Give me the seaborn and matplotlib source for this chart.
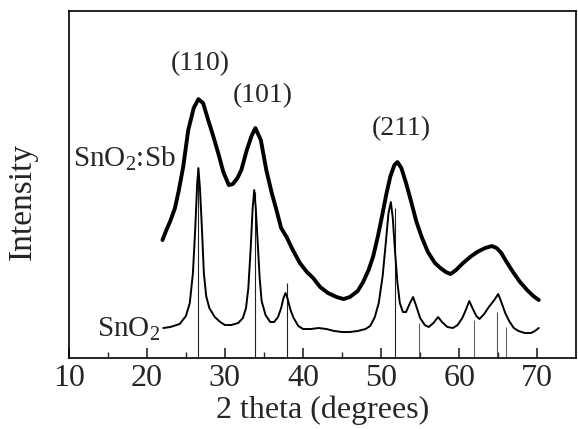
import matplotlib
matplotlib.use("Agg")
import matplotlib.pyplot as plt
import seaborn as sns
import pandas as pd

# SnO2:Sb pattern (2-theta in degrees, intensity in arbitrary units)
sb_theta = [22.0, 22.5, 23.0, 23.6, 24.1, 24.65, 25.3, 26.0, 26.6, 27.2, 27.86, 28.5,
            29.14, 29.8, 30.5, 31.0, 31.6, 32.1, 32.8, 33.4, 33.9, 34.6, 35.3, 36.0,
            36.6, 37.2, 37.9, 38.7, 39.6, 40.5, 41.3, 42.2, 43.2, 44.3, 45.2, 46.0,
            47.0, 47.7, 48.4, 49.0, 49.6, 50.2, 50.7, 51.2, 51.7, 52.1, 52.6, 53.2,
            53.9, 54.5, 55.2, 56.0, 56.9, 57.6, 58.3, 58.9, 59.6, 60.5, 61.4, 62.3,
            63.3, 64.2, 64.8, 65.4, 66.0, 66.9, 67.8, 68.7, 69.5, 70.2]
sb_int = [118, 128, 137, 150, 168, 191, 228, 250, 259, 255, 238, 222,
          205, 186, 173, 174, 180, 188, 208, 222, 230, 218, 188, 165,
          148, 130, 121, 108, 95, 86, 80, 71, 65, 61, 59, 61,
          67, 76, 88, 102, 122, 145, 165, 182, 193, 196, 190, 175,
          155, 137, 121, 106, 95, 90, 86, 84, 88, 95, 101, 106,
          110, 112, 110, 105, 97, 86, 76, 68, 62, 58]

# Undoped SnO2 pattern
sn_theta = [22.1, 23.0, 24.2, 25.0, 25.5, 25.9, 26.2, 26.45, 26.6, 26.8, 27.05, 27.3,
            27.6, 28.0, 28.7, 29.4, 30.0, 30.8, 31.7, 32.3, 32.7, 33.0, 33.3, 33.55,
            33.75, 33.95, 34.2, 34.45, 34.7, 35.2, 35.8, 36.3, 36.8, 37.2, 37.5, 37.75,
            38.0, 38.4, 38.8, 39.4, 40.0, 41.0, 42.0, 43.0, 44.0, 45.0, 46.0, 47.0,
            48.0, 48.6, 49.2, 49.7, 50.2, 50.6, 50.95, 51.25, 51.5, 51.8, 52.1, 52.4,
            52.8, 53.2, 53.7, 54.1, 54.5, 55.0, 55.6, 56.1, 56.7, 57.3, 57.8, 58.5,
            59.2, 59.8, 60.4, 60.9, 61.3, 61.7, 62.2, 62.6, 63.2, 63.8, 64.5, 65.0,
            65.4, 65.9, 66.4, 67.0, 67.6, 68.4, 69.2, 69.7, 70.2]
sn_int = [30, 31, 34, 42, 55, 85, 130, 175, 190, 170, 130, 85,
          62, 50, 41, 36, 33, 33, 35, 40, 50, 70, 110, 150,
          168, 150, 115, 80, 57, 43, 36, 36, 41, 50, 60, 65,
          60, 48, 40, 32, 29, 29, 30, 29, 27, 26, 26, 27,
          29, 32, 41, 55, 82, 115, 145, 156, 140, 105, 75, 55,
          46, 46, 55, 61, 52, 40, 33, 31, 35, 41, 36, 31,
          30, 33, 40, 49, 57, 50, 42, 39, 44, 51, 58, 64,
          56, 45, 37, 30, 27, 25, 25, 27, 30]

# Cassiterite reference lines
ref_theta = [26.55, 33.9, 37.95, 51.8, 54.8, 61.95, 64.8, 66.05]
ref_int = [190, 166, 75, 150, 35, 38, 46, 31]
ref_colors = ["#222222", "#222222", "#222222", "#222222",
              "#666666", "#666666", "#555555", "#666666"]

# Peak indices
hkl_labels = ["(110)", "(101)", "(211)"]
hkl_x = [26.8, 34.9, 52.6]
hkl_y = [288, 256, 223]

x_ticks = [10, 20, 30, 40, 50, 60, 70]

sns.set_style("white")
plt.rcParams["font.family"] = ["Liberation Serif", "DejaVu Serif"]
plt.rcParams["mathtext.fontset"] = "custom"
plt.rcParams["mathtext.rm"] = "Liberation Serif"
plt.rcParams["mathtext.it"] = "Liberation Serif:italic"

fig = plt.figure(figsize=(5.78, 4.29), dpi=100)
ax = fig.add_axes([0.119, 0.1655, 0.878, 0.8085])

df_sb = pd.DataFrame({"theta": sb_theta, "intensity": sb_int})
df_sn = pd.DataFrame({"theta": sn_theta, "intensity": sn_int})

ax.vlines(ref_theta, 0, ref_int, colors=ref_colors, linewidth=0.8, zorder=1)
sns.lineplot(data=df_sn, x="theta", y="intensity", ax=ax, color="black",
             linewidth=1.4, sort=False, zorder=2)
sns.lineplot(data=df_sb, x="theta", y="intensity", ax=ax, color="black",
             linewidth=2.8, sort=False, zorder=2)

for lab, xx, yy in zip(hkl_labels, hkl_x, hkl_y):
    ax.text(xx, yy, lab, ha="center", va="baseline", fontsize=20)

ax.text(10.5, 191, "SnO$_2$:Sb", ha="left", va="baseline", fontsize=21)
ax.text(13.6, 21, "SnO$_2$", ha="left", va="baseline", fontsize=21)

ax.set_xlim(10, 75)
ax.set_ylim(0, 347)
ax.set_xticks(x_ticks)
ax.set_xticks([15, 25, 35, 45, 55, 65], minor=True)
ax.set_yticks([])
ax.tick_params(axis="x", which="major", direction="in", length=7, width=1.2,
               labelsize=23, pad=4, bottom=True, top=False)
ax.tick_params(axis="x", which="minor", direction="in", length=4, width=1.0,
               bottom=True, top=False)
for s in ax.spines.values():
    s.set_linewidth(1.2)
    s.set_color("black")

ax.set_xlabel("2 theta (degrees)", fontsize=23, labelpad=2)
ax.set_ylabel("Intensity", fontsize=24)
ax.yaxis.set_label_coords(-0.062, 0.45)

fig.savefig("out.png", dpi=100)
